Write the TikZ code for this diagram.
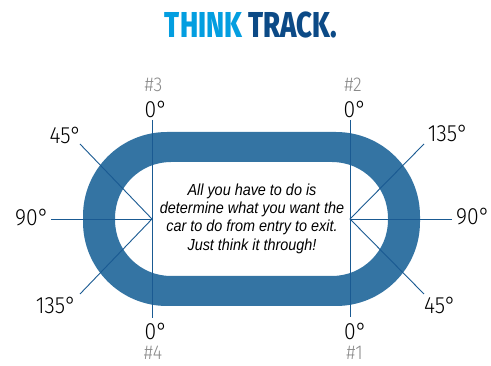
\documentclass[tikz,border=0pt]{standalone}
\usepackage{fontspec}
\setmainfont{Fira Sans}
\newfontfamily\degfont[FakeStretch=0.9]{Fira Sans Light}
\newfontfamily\titlefont[FakeStretch=0.765]{Fira Sans ExtraBold}
\newfontfamily\bodyfont[FakeStretch=0.9]{Liberation Sans}
\definecolor{trackblue}{HTML}{3474A3}
\definecolor{linecol}{HTML}{1A5A92}
\definecolor{thinkblue}{HTML}{039EE0}
\definecolor{trackdark}{HTML}{0C4A86}
\definecolor{graytxt}{HTML}{8A8A8A}
\tikzset{
  deg/.style={inner sep=0pt, font=\degfont\fontsize{23.5}{23.5}\selectfont, text=black},
  num/.style={inner sep=0pt, font=\degfont\fontsize{20}{20}\selectfont, text=graytxt},
  guide/.style={draw=linecol, line width=0.9pt},
}
\begin{document}
\begin{tikzpicture}[x=1pt,y=-1pt]
\useasboundingbox (0,0) rectangle (491,366);
% title
\node[inner sep=0pt, font=\titlefont\fontsize{36}{36}\selectfont] (title) at (251,24.5)
  {\textcolor{thinkblue}{THINK} \textcolor{trackdark}{TRACK.}};
% track
\fill[trackblue, even odd rule] [rounded corners=84] (83,132) rectangle (420,306)
  [rounded corners=56] (115,162) rectangle (388,276);
% centres
\coordinate (L) at (152,219);
\coordinate (R) at (350,219);
\coordinate (Ltop) at (152,120);
\coordinate (Lbot) at (152,318);
\coordinate (Rtop) at (350,120);
\coordinate (Rbot) at (350,317);
\coordinate (Lh) at (51,219);
\coordinate (Rh) at (452,219);
\coordinate (L45) at (80,144);
\coordinate (L135) at (80,294);
\coordinate (R135) at (424,144);
\coordinate (R45) at (424,294);
\draw[guide] (Ltop) -- (Lbot);
\draw[guide] (Rtop) -- (Rbot);
\draw[guide] (Lh) -- (L);
\draw[guide] (R) -- (Rh);
\draw[guide] (L45) -- (L) -- (L135);
\draw[guide] (R135) -- (R) -- (R45);
% labels
\node[num] (n3) at (153.5,84.5) {\#3};
\node[num] (n2) at (353,84.5) {\#2};
\node[num] (n4) at (153,352.5) {\#4};
\node[num] (n1) at (354.5,352.5) {\#1};
\node[deg] (d3) at (156,109) {0°};
\node[deg] (d2) at (355,109) {0°};
\node[deg] (d4) at (156,331) {0°};
\node[deg] (d1) at (355.5,331) {0°};
\node[deg] (a45l) at (65.5,135) {45°};
\node[deg] (a135r) at (448,133.5) {135°};
\node[deg] (a90l) at (32,218) {90°};
\node[deg] (a90r) at (473,217) {90°};
\node[deg] (a135l) at (56,305) {135°};
\node[deg] (a45r) at (440,305) {45°};
% centre text
\node[inner sep=0pt, align=center, font=\bodyfont\itshape\fontsize{16}{18.3}\selectfont] (txt) at (252,218.5)
  {All you have to do is\\determine what you want the\\car to do from entry to exit.\\Just think it through!};
\end{tikzpicture}
\end{document}
